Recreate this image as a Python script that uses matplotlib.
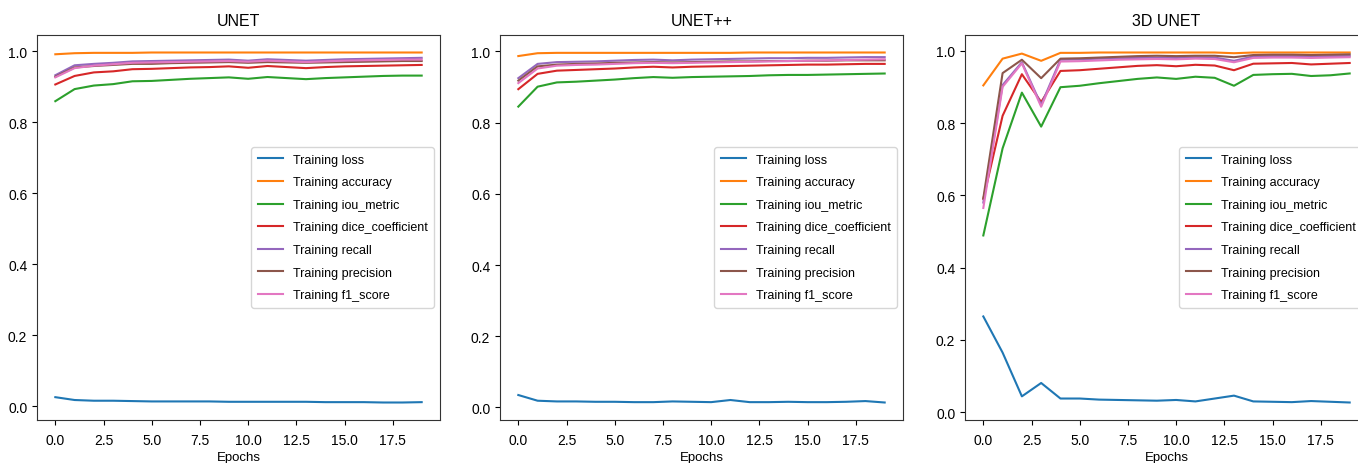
import numpy as np
from matplotlib import pyplot as plt
from matplotlib import font_manager

###########################
# data
epochs = np.arange(20)

noms = ['Training loss', 'Training accuracy', 'Training iou_metric',
        'Training dice_coefficient', 'Training recall', 'Training precision',
        'Training f1_score']

# UNET
unet_loss = [0.026, 0.018, 0.016, 0.016, 0.015, 0.014, 0.014, 0.014, 0.014, 0.013,
             0.013, 0.013, 0.013, 0.013, 0.012, 0.012, 0.012, 0.011, 0.011, 0.012]
unet_acc = [0.991, 0.994, 0.995, 0.995, 0.995, 0.996, 0.996, 0.996, 0.996, 0.996,
            0.996, 0.996, 0.996, 0.996, 0.996, 0.996, 0.996, 0.996, 0.996, 0.996]
unet_iou = [0.859, 0.893, 0.903, 0.907, 0.915, 0.916, 0.919, 0.922, 0.924, 0.926,
            0.922, 0.927, 0.924, 0.921, 0.924, 0.926, 0.928, 0.930, 0.931, 0.931]
unet_dice = [0.906, 0.930, 0.940, 0.943, 0.949, 0.950, 0.952, 0.954, 0.955, 0.957,
             0.953, 0.958, 0.955, 0.952, 0.955, 0.957, 0.958, 0.959, 0.960, 0.961]
unet_recall = [0.932, 0.960, 0.964, 0.967, 0.971, 0.972, 0.973, 0.974, 0.975, 0.976,
               0.973, 0.977, 0.975, 0.973, 0.975, 0.977, 0.978, 0.979, 0.980, 0.981]
unet_precision = [0.928, 0.954, 0.958, 0.961, 0.964, 0.964, 0.966, 0.967, 0.968, 0.969,
                  0.967, 0.969, 0.968, 0.967, 0.968, 0.969, 0.970, 0.971, 0.972, 0.972]
unet_f1 = [0.926, 0.952, 0.959, 0.963, 0.967, 0.968, 0.969, 0.970, 0.971, 0.972,
           0.970, 0.973, 0.971, 0.969, 0.971, 0.973, 0.974, 0.975, 0.976, 0.976]

# UNET++
unetpp_loss = [0.035, 0.019, 0.017, 0.017, 0.016, 0.016, 0.015, 0.015, 0.017, 0.016,
               0.015, 0.021, 0.015, 0.015, 0.016, 0.015, 0.015, 0.016, 0.018, 0.014]
unetpp_acc = [0.987, 0.995, 0.996, 0.996, 0.996, 0.996, 0.996, 0.996, 0.996, 0.996,
              0.996, 0.996, 0.997, 0.997, 0.997, 0.997, 0.997, 0.997, 0.997, 0.997]
unetpp_iou = [0.845, 0.901, 0.913, 0.915, 0.918, 0.921, 0.925, 0.928, 0.926, 0.928,
              0.929, 0.930, 0.931, 0.933, 0.934, 0.934, 0.935, 0.936, 0.937, 0.938]
unetpp_dice = [0.894, 0.937, 0.946, 0.948, 0.950, 0.952, 0.955, 0.957, 0.955, 0.957,
               0.958, 0.959, 0.960, 0.961, 0.962, 0.963, 0.963, 0.964, 0.965, 0.965]
unetpp_recall = [0.925, 0.965, 0.970, 0.971, 0.972, 0.974, 0.976, 0.977, 0.975, 0.977,
                 0.978, 0.979, 0.980, 0.981, 0.981, 0.982, 0.982, 0.983, 0.984, 0.984]
unetpp_precision = [0.918, 0.958, 0.963, 0.965, 0.966, 0.968, 0.969, 0.970, 0.969, 0.970,
                    0.971, 0.972, 0.972, 0.973, 0.973, 0.974, 0.974, 0.975, 0.975, 0.975]
unetpp_f1 = [0.911, 0.952, 0.960, 0.962, 0.963, 0.965, 0.967, 0.968, 0.967, 0.968,
             0.969, 0.970, 0.971, 0.972, 0.973, 0.974, 0.975, 0.976, 0.977, 0.978]

# 3D UNET
unet3d_loss = [0.265, 0.165, 0.044, 0.081, 0.038, 0.038, 0.035, 0.034, 0.033, 0.032,
               0.034, 0.030, 0.038, 0.046, 0.030, 0.029, 0.028, 0.031, 0.029, 0.027]
unet3d_acc = [0.904, 0.978, 0.992, 0.972, 0.994, 0.994, 0.995, 0.995, 0.995, 0.995,
              0.995, 0.995, 0.995, 0.993, 0.995, 0.995, 0.995, 0.995, 0.995, 0.995]
unet3d_iou = [0.489, 0.730, 0.884, 0.790, 0.899, 0.903, 0.910, 0.916, 0.922, 0.926,
              0.922, 0.928, 0.925, 0.903, 0.933, 0.935, 0.936, 0.930, 0.932, 0.937]
unet3d_dice = [0.590, 0.820, 0.935, 0.858, 0.944, 0.946, 0.950, 0.954, 0.958, 0.960,
               0.957, 0.961, 0.959, 0.946, 0.964, 0.965, 0.966, 0.962, 0.964, 0.966]
unet3d_recall = [0.580, 0.905, 0.968, 0.850, 0.975, 0.976, 0.978, 0.979, 0.980, 0.981,
                 0.980, 0.982, 0.981, 0.972, 0.984, 0.985, 0.985, 0.984, 0.985, 0.985]
unet3d_precision = [0.592, 0.938, 0.975, 0.924, 0.978, 0.979, 0.981, 0.983, 0.985, 0.986,
                    0.985, 0.986, 0.986, 0.982, 0.988, 0.989, 0.989, 0.988, 0.989, 0.990]
unet3d_f1 = [0.565, 0.900, 0.965, 0.845, 0.970, 0.971, 0.973, 0.975, 0.976, 0.977,
             0.976, 0.978, 0.977, 0.968, 0.980, 0.981, 0.981, 0.980, 0.981, 0.982]

titres = ['UNET', 'UNET++', '3D UNET']
panneaux = [
    [unet_loss, unet_acc, unet_iou, unet_dice, unet_recall, unet_precision, unet_f1],
    [unetpp_loss, unetpp_acc, unetpp_iou, unetpp_dice, unetpp_recall, unetpp_precision, unetpp_f1],
    [unet3d_loss, unet3d_acc, unet3d_iou, unet3d_dice, unet3d_recall, unet3d_precision, unet3d_f1],
]
###########################

# narrow font if we have it, the reference text is squeezed
installed = {f.name for f in font_manager.fontManager.ttflist}
if 'Liberation Sans Narrow' in installed:
    plt.rcParams['font.family'] = ['Liberation Sans Narrow', 'DejaVu Sans']
    t_title, t_tick, t_leg, t_lab = 12, 11, 10.5, 11
else:
    plt.rcParams['font.family'] = ['Liberation Sans', 'DejaVu Sans']
    t_title, t_tick, t_leg, t_lab = 11.5, 10, 9, 9.5

fig = plt.figure(figsize=(13.58, 4.64), dpi=100)
gauches = [37, 500, 965]

for i in range(3):
    ax = fig.add_axes([gauches[i] / 1358, 43 / 464, 403 / 1358, 385 / 464])
    for serie, nom in zip(panneaux[i], noms):
        ax.plot(epochs, serie, label=nom)
    ax.set_title(titres[i], fontsize=t_title, pad=7)
    ax.set_xlabel('Epochs', fontsize=t_lab, labelpad=3)
    ax.tick_params(labelsize=t_tick)
    ax.tick_params(axis='x', pad=6)
    for s in ax.spines.values():
        s.set_color('#333333')
    ax.legend(loc='center right', fontsize=t_leg, labelspacing=0.85, borderpad=0.5)

fig.savefig('out.png', dpi=100)
